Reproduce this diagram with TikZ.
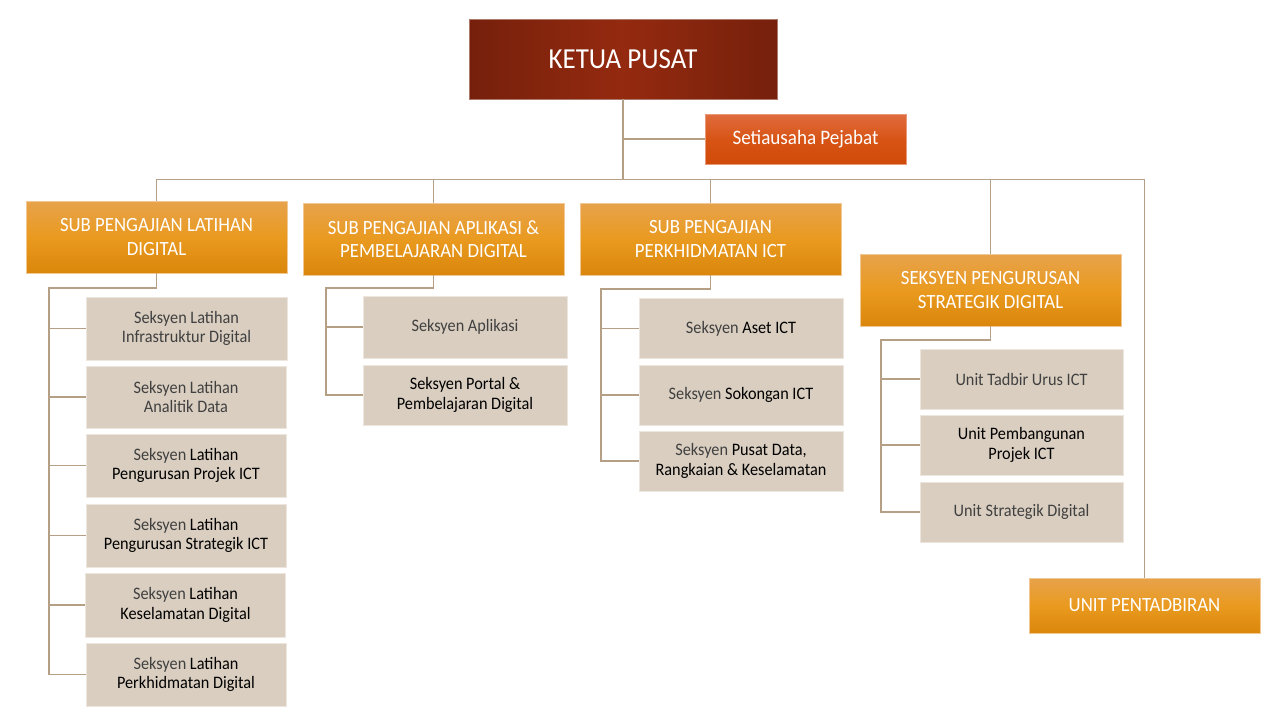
\documentclass[tikz,border=0pt]{standalone}
\usepackage{fontspec}
\setmainfont{Carlito}[FakeStretch=0.93]
\definecolor{lineC}{RGB}{181,160,134}
\definecolor{kDark}{RGB}{118,32,12}
\definecolor{kMid}{RGB}{148,42,15}
\definecolor{oTop}{RGB}{231,163,76}
\definecolor{oMid}{RGB}{233,154,31}
\definecolor{oBot}{RGB}{218,135,12}
\definecolor{sTop}{RGB}{224,108,62}
\definecolor{sMid}{RGB}{216,84,22}
\definecolor{sBot}{RGB}{208,74,8}
\definecolor{cFill}{RGB}{217,206,192}
\definecolor{cEdge}{RGB}{236,230,222}
\definecolor{tGray}{RGB}{64,64,64}
\begin{document}
\begin{tikzpicture}[x=1pt,y=-1pt,
  conn/.style={draw=lineC,line width=1.3pt},
  ketuabox/.style={draw=kDark!60!white,line width=0.6pt,left color=kDark,right color=kDark,middle color=kMid,
    text=white,minimum width=308pt,minimum height=80pt,inner sep=0pt,font=\fontsize{29}{33}\selectfont},
  secbox/.style={draw=sTop!70!white,line width=0.6pt,top color=sTop,bottom color=sBot,middle color=sMid,
    text=white,minimum width=201pt,minimum height=50pt,inner sep=0pt,font=\fontsize{20.5}{23}\selectfont},
  orgbox/.style={draw=oTop!60!white,line width=0.6pt,top color=oTop,bottom color=oBot,middle color=oMid,
    text=white,minimum width=261pt,minimum height=72pt,inner sep=0pt,align=center,font=\fontsize{20.2}{23.5}\selectfont},
  childbox/.style={draw=cEdge,line width=0.8pt,fill=cFill,text=tGray,minimum width=#1,minimum height=62pt,
    inner sep=0pt,align=center,font=\fontsize{17.5}{19.5}\selectfont},
  childbox/.default=202pt
]
\useasboundingbox (0,0) rectangle (1280,718);
\fill[white] (0,0) rectangle (1280,718);

% top
\node[ketuabox] (ketua) at (623,59) {KETUA PUSAT};
\node[secbox] (sec) at (805.5,139) {Setiausaha Pejabat};

% level 1
\node[orgbox] (b1) at (156.5,237) {SUB PENGAJIAN LATIHAN\\DIGITAL};
\node[orgbox] (b2) at (433.5,239) {SUB PENGAJIAN APLIKASI \&\\PEMBELAJARAN DIGITAL};
\node[orgbox] (b3) at (710.5,239) {SUB PENGAJIAN\\PERKHIDMATAN ICT};
\node[orgbox] (b4) at (990.5,290) {SEKSYEN PENGURUSAN\\STRATEGIK DIGITAL};
\node[orgbox,minimum width=231pt,minimum height=55pt] (unit) at (1144.5,605.5) {UNIT PENTADBIRAN};

% children of b1
\node[childbox=201pt,minimum height=63pt] (c1) at (186.5,328.5) {Seksyen Latihan\\Infrastruktur Digital};
\node[childbox=200pt,minimum height=62pt] (c2) at (186,397) {Seksyen Latihan\\Analitik Data};
\node[childbox=200pt,minimum height=63pt] (c3) at (186,465.5) {Seksyen \textcolor{black}{Latihan}\\\textcolor{black}{Pengurusan Projek ICT}};
\node[childbox=200pt,minimum height=63pt] (c4) at (186,535.5) {Seksyen \textcolor{black}{Latihan}\\\textcolor{black}{Pengurusan Strategik ICT}};
\node[childbox=200pt,minimum height=64pt] (c5) at (185.5,605) {Seksyen \textcolor{black}{Latihan}\\\textcolor{black}{Keselamatan Digital}};
\node[childbox=200pt,minimum height=63pt] (c6) at (186,674.5) {Seksyen \textcolor{black}{Latihan}\\\textcolor{black}{Perkhidmatan Digital}};

% children of b2
\node[childbox=204pt,minimum height=62pt] (d1) at (465,327) {Seksyen Aplikasi};
\node[childbox=204pt,minimum height=60pt] (d2) at (465,395) {\textcolor{black}{Seksyen Portal \&}\\\textcolor{black}{Pembelajaran Digital}};

% children of b3
\node[childbox=204pt,minimum height=60pt] (e1) at (741,328.5) {Seksyen \textcolor{black}{Aset ICT}};
\node[childbox=204pt,minimum height=60pt] (e2) at (741,395) {Seksyen \textcolor{black}{Sokongan ICT}};
\node[childbox=204pt,minimum height=60pt] (e3) at (741,461) {Seksyen \textcolor{black}{Pusat Data,}\\\textcolor{black}{Rangkaian \& Keselamatan}};

% children of b4
\node[childbox=203pt,minimum height=60pt] (f1) at (1021.5,379) {Unit Tadbir Urus ICT};
\node[childbox=203pt,minimum height=60pt] (f2) at (1021.5,445) {\textcolor{black}{Unit Pembangunan}\\\textcolor{black}{Projek ICT}};
\node[childbox=203pt,minimum height=60pt] (f3) at (1021.5,512) {Unit Strategik Digital};

% bus coordinates
\coordinate (bus) at (0,179.5);
\coordinate (r1) at (49,288);
\coordinate (r2) at (326,288);
\coordinate (r3) at (601,289);
\coordinate (r4) at (881,340);

% trunk
\draw[conn] (ketua.south) -- (ketua.south |- bus);
\draw[conn] (ketua.south |- sec.west) -- (sec.west);
\draw[conn] (b1.north) -- (b1.north |- bus) -- (unit.north |- bus) -- (unit.north);
\draw[conn] (b2.north) -- (b2.north |- bus);
\draw[conn] (b3.north) -- (b3.north |- bus);
\draw[conn] (b4.north) -- (b4.north |- bus);

% b1 children
\draw[conn] (b1.south) |- (r1) -- (r1 |- c6.west) -- (c6.west);
\foreach \n in {c1,c2,c3,c4,c5} \draw[conn] (r1 |- \n.west) -- (\n.west);
% b2 children
\draw[conn] (b2.south) |- (r2) -- (r2 |- d2.west) -- (d2.west);
\draw[conn] (r2 |- d1.west) -- (d1.west);
% b3 children
\draw[conn] (b3.south) |- (r3) -- (r3 |- e3.west) -- (e3.west);
\foreach \n in {e1,e2} \draw[conn] (r3 |- \n.west) -- (\n.west);
% b4 children
\draw[conn] (b4.south) |- (r4) -- (r4 |- f3.west) -- (f3.west);
\foreach \n in {f1,f2} \draw[conn] (r4 |- \n.west) -- (\n.west);
\end{tikzpicture}
\end{document}
